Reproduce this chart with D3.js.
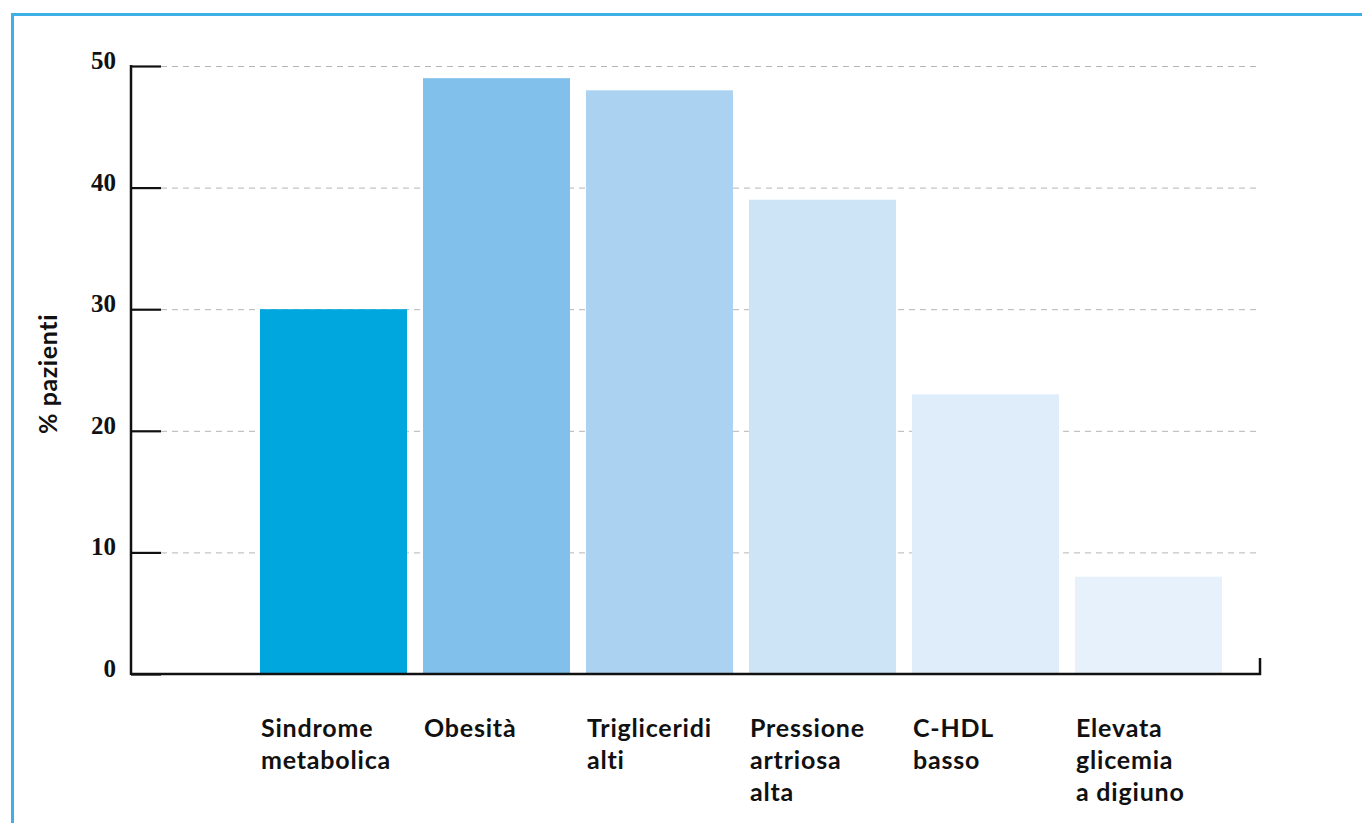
<!DOCTYPE html>
<html>
<head>
<meta charset="utf-8">
<script src="https://cdn.jsdelivr.net/npm/d3@7"></script>
<style>
  html, body { margin: 0; padding: 0; background: #fff; }
  svg { display: block; }
</style>
</head>
<body>
<svg id="chart" width="1362" height="823"></svg>
<script>
// Categories (multi-line labels) and values (% of patients)
const categories = [
  ["Sindrome", "metabolica"],
  ["Obesità"],
  ["Trigliceridi", "alti"],
  ["Pressione", "artriosa", "alta"],
  ["C-HDL", "basso"],
  ["Elevata", "glicemia", "a digiuno"]
];
const values = [30, 49, 48, 39, 23, 8];
const barColors = ["#00a6de", "#80c0ea", "#abd2f1", "#cde3f6", "#deedf9", "#e6f1fb"];
const yTicks = [0, 10, 20, 30, 40, 50];
const yTitle = "% pazienti";

const svg = d3.select("#chart");

// Frame
svg.append("rect")
  .attr("x", 12.5).attr("y", 14.5)
  .attr("width", 1400).attr("height", 900)
  .attr("fill", "none")
  .attr("stroke", "#3fb0e6")
  .attr("stroke-width", 3);

const axisX0 = 131, axisX1 = 1260;
const y = d3.scaleLinear().domain([0, 50]).range([674, 66]);
const keys = categories.map(d => d.join(" "));
const x = d3.scaleBand()
  .domain(keys)
  .range([252, 1230])
  .paddingInner(0.098)
  .paddingOuter(0.049);

// Dashed gridlines
svg.append("g")
  .selectAll("line")
  .data(yTicks.filter(d => d > 0))
  .join("line")
  .attr("x1", 161).attr("x2", axisX1)
  .attr("y1", d => y(d) + 0.5).attr("y2", d => y(d) + 0.5)
  .attr("stroke", "#b5b5b5")
  .attr("stroke-width", 1)
  .attr("stroke-dasharray", "6,5");

// Bars
svg.append("g")
  .selectAll("rect")
  .data(values)
  .join("rect")
  .attr("x", (d, i) => x(keys[i]))
  .attr("width", x.bandwidth())
  .attr("y", d => y(d))
  .attr("height", d => y(0) - y(d))
  .attr("fill", (d, i) => barColors[i]);

// Y axis with inward ticks
const yAxis = d3.axisRight(y)
  .tickValues(yTicks)
  .tickSize(30)
  .tickFormat("");
const gy = svg.append("g")
  .attr("transform", `translate(${axisX0},0)`)
  .call(yAxis);
gy.select(".domain").remove();
gy.selectAll(".tick line").attr("stroke", "#111").attr("stroke-width", 2.2);
svg.append("line")
  .attr("x1", axisX0).attr("x2", axisX0)
  .attr("y1", y(50) - 1).attr("y2", y(0) + 1)
  .attr("stroke", "#111").attr("stroke-width", 2.5);

// Tick labels
svg.append("g")
  .selectAll("text")
  .data(yTicks)
  .join("text")
  .attr("x", 116)
  .attr("y", d => y(d) + 3)
  .attr("text-anchor", "end")
  .attr("font-family", "'Liberation Serif', 'DejaVu Serif', serif")
  .attr("font-weight", "bold")
  .attr("font-size", 25)
  .attr("fill", "#111")
  .text(d => d);

// X axis baseline with end tick
svg.append("path")
  .attr("d", `M${axisX0},${y(0)}H${axisX1}V${y(0) - 16}`)
  .attr("fill", "none")
  .attr("stroke", "#111")
  .attr("stroke-width", 2.5);

// Category labels
const labels = svg.append("g")
  .selectAll("text")
  .data(categories)
  .join("text")
  .attr("x", (d, i) => x(keys[i]) + 1)
  .attr("y", 737)
  .attr("font-family", "Lato, 'Open Sans', sans-serif")
  .attr("font-weight", "bold")
  .attr("font-size", 25)
  .attr("letter-spacing", 0.8)
  .attr("fill", "#111");
labels.selectAll("tspan")
  .data(d => d)
  .join("tspan")
  .attr("x", function() { return d3.select(this.parentNode).attr("x"); })
  .attr("dy", (d, i) => i === 0 ? 0 : 32)
  .text(d => d);

// Y axis title
svg.append("text")
  .attr("transform", "translate(57,374) rotate(-90)")
  .attr("text-anchor", "middle")
  .attr("font-family", "Lato, 'Open Sans', sans-serif")
  .attr("font-weight", "bold")
  .attr("font-size", 25)
  .attr("letter-spacing", 0.6)
  .attr("fill", "#111")
  .text(yTitle);
</script>
</body>
</html>
